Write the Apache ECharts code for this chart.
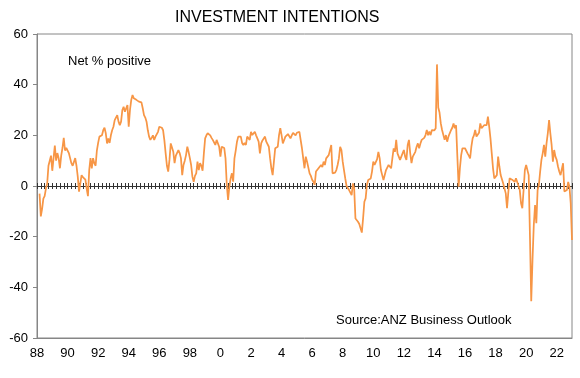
<!DOCTYPE html>
<html><head><meta charset="utf-8">
<script src="https://cdn.jsdelivr.net/npm/echarts@6/dist/echarts.min.js"></script>
<style>html,body{margin:0;padding:0;background:#fff}#c{width:580px;height:378px}</style>
</head><body><div id="c"></div>
<script>
// Tick labels shown under the x axis (every two years, January)
const tickLabels = ['88','90','92','94','96','98','0','2','4','6','8','10','12','14','16','18','20','22'];
const firstYear = 1988;
const lastYear = 2022; // monthly through Dec 2022, plus Jan 2023

// Net % positive, monthly values
const inv1988_1992 = [
  null,null,-3,-12,-9,-5,-4,-1,1,8,10,12,
  6,11,16,10,13,11,7,12,15,19,14,15,
  15.5,13,11,9,8,7.7,11,8,3.7,-2.2,1,4.3,
  3.5,3,2.5,-1,-4,6.3,11,7,11,9,8,14,
  17,19.5,20,20,22,23,20.8,16.8,18.8,17,20,22
];
const inv1993_1997 = [
  23.4,26,27,28,25.4,24,25.4,30,31.3,29.3,30,32,
  23.4,30,34,35.9,34.6,35,34,34.6,33.3,34,33,30.7,
  28,27,25.4,22,19.5,18.2,19,20,18.2,19.5,20,21.4,
  23.4,24,23,22,18,12.9,8,5.7,10.3,16.8,16.5,13.5,
  9,12,12,14.2,13,11,4.3,8.3,10,12.2,15.5,13.5
];
const inv1998_2002 = [
  11,8.3,3.7,1.7,4,5,9.6,6.3,9,8,6,12.9,
  18.8,20,20.8,21.2,20,19,18.2,18.2,16.2,18.2,18.8,15.5,
  11.6,15.5,15.5,15,10.9,0.4,-5.5,-0.3,3,5,1.7,10.9,
  14,17.5,19.5,19.5,19.5,17,16.2,17,16.2,19.5,19,18.2,
  21.4,20.1,20.5,21.4,20,18.8,17.5,12.9,16.8,18,18.2,19.5
];
const inv2003_2007 = [
  17.5,18.2,15.5,10.9,7,4.3,9.6,14.9,14.5,15.5,20.1,22.8,
  20.1,16.8,17.5,19.5,20,20.5,21,18.8,20,21,21,20,
  21,21.4,21.4,22,14.9,10.9,7,11.6,9.6,9.5,5,4,
  2.5,1.7,0.4,5.7,6.3,7,7,8.3,7.5,9.6,8.3,10.9,
  11.6,12.2,12.5,16.2,5,5,5.3,6.3,8.3,10.9,15.5,14.2
];
const inv2008_2012 = [
  9.6,6.3,3,0,-0.3,-1.6,-2.2,-3.6,1,-1,-12.8,-13.4,
  -14.1,-15,-16.7,-18.4,-12.8,-6.2,-4.9,0.4,2.4,2.5,3,5.7,
  9.6,8.3,8.3,10.6,13.5,11,6.3,4.3,2.4,3,6.3,7,
  8.3,9,7,11,14.9,13.5,18.2,12.9,11.6,10.3,11.6,12,
  14.2,11.6,10.3,16.2,18.2,12.9,9,11.6,11.6,13.5,15.5,16.8
];
const inv2013_2017 = [
  14.9,16.8,18.2,17.5,19,20.1,22.1,20,21.5,20.1,22.1,21.5,
  22,22.8,48,31,29,24.7,22.1,22,18.2,20.1,17.5,19.5,
  20.8,22,23,24.7,22.8,24,11.6,-0.3,7,12.2,14.9,14.9,
  14.9,14.2,12.9,12,10.9,15.5,18.8,20,22.1,19.5,18.8,21,
  24.7,22.8,22.1,24,24,24,27.4,23.4,18.8,12.9,7,3
];
const inv2018_2023 = [
  3.5,4.3,11.6,7.7,4.3,3.7,1,1.5,-2.9,-8.8,-2.5,3,
  2.4,2.5,2.5,1.6,3,1.6,0,-1.6,-6.8,-8.8,-1.6,6.3,
  8.3,7.7,4.3,-20,-45.5,-29.2,-15.4,-7.5,-14.7,-1.6,0.4,5.7,
  10.3,12.9,16.2,11.6,16.8,20.8,26,20.8,16.2,9.6,14.2,11.6,
  10.3,7.7,5.7,4.3,4.5,9,-2.2,-2,-1.6,1.6,-0.3,-6.8,
  -21.3
];

const values = [].concat(inv1988_1992, inv1993_1997, inv1998_2002, inv2003_2007, inv2008_2012, inv2013_2017, inv2018_2023);
const months = [];
for (let y = firstYear; y <= lastYear; y++) for (let m = 1; m <= 12; m++) months.push(y + '-' + (m < 10 ? '0' : '') + m);
months.push((lastYear + 1) + '-01');

const FONT = '"Liberation Sans", Arial, sans-serif';
const chart = echarts.init(document.getElementById('c'), null, {renderer: 'canvas'});
chart.setOption({
  animation: false,
  backgroundColor: '#ffffff',
  textStyle: {fontFamily: FONT},
  title: [
    {text: 'INVESTMENT INTENTIONS', left: 175, top: 10, padding: 0,
     textStyle: {fontFamily: FONT, fontSize: 16, fontWeight: 'normal', color: '#000'}},
    {text: 'Net % positive', left: 68, top: 55, padding: 0,
     textStyle: {fontFamily: FONT, fontSize: 13, fontWeight: 'normal', color: '#000'}},
    {text: 'Source:ANZ Business Outlook', left: 336, top: 314, padding: 0,
     textStyle: {fontFamily: FONT, fontSize: 13, fontWeight: 'normal', color: '#000'}}
  ],
  grid: {left: 37, right: 8, top: 34, bottom: 40, show: true, borderColor: '#868686', borderWidth: 1, backgroundColor: 'transparent'},
  xAxis: [
    {type: 'category', data: months, boundaryGap: false, position: 'bottom',
     axisLine: {show: true, onZero: false, lineStyle: {color: '#868686'}},
     axisTick: {show: false},
     axisLabel: {show: true, margin: 9, fontSize: 13, color: '#000', fontFamily: FONT,
       interval: function (i) { return i % 24 === 0; },
       formatter: function (v, i) { return i % 24 === 0 ? tickLabels[i / 24] : ''; }},
     splitLine: {show: false}},
    {type: 'category', data: months, boundaryGap: false, position: 'bottom',
     axisLine: {show: true, onZero: true, onZeroAxisIndex: 0, lineStyle: {color: '#333', width: 1}},
     axisTick: {show: true, interval: 2, length: 3, lineStyle: {color: '#333', width: 1}},
     axisLabel: {show: false}, splitLine: {show: false}},
    {type: 'category', data: months, boundaryGap: false, position: 'top',
     axisLine: {show: true, onZero: true, onZeroAxisIndex: 0, lineStyle: {color: '#333', width: 1}},
     axisTick: {show: true, interval: 2, length: 3, lineStyle: {color: '#333', width: 1}},
     axisLabel: {show: false}, splitLine: {show: false}}
  ],
  yAxis: {type: 'value', min: -60, max: 60, interval: 20,
    axisLine: {show: true, lineStyle: {color: '#868686'}},
    axisTick: {show: true, length: 4, lineStyle: {color: '#868686'}},
    axisLabel: {margin: 9, fontSize: 13, color: '#000', fontFamily: FONT},
    splitLine: {show: false}},
  series: [{
    type: 'line', xAxisIndex: 0, yAxisIndex: 0, data: values,
    symbol: 'none', connectNulls: false,
    lineStyle: {color: '#F79646', width: 1.75},
    itemStyle: {color: '#F79646'}
  }]
});
</script>
</body></html>
